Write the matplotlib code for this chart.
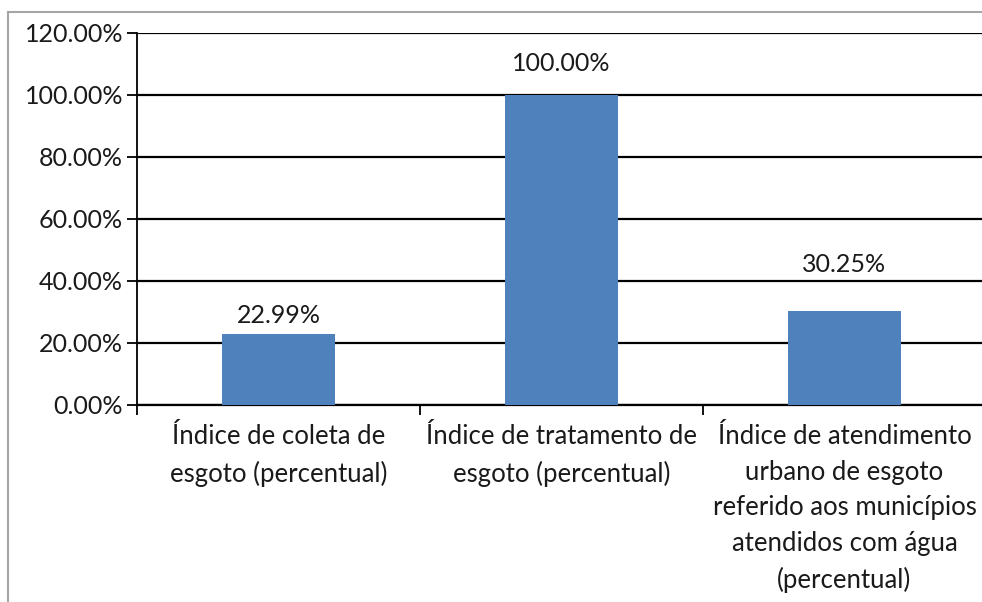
import matplotlib
matplotlib.use("Agg")
import matplotlib.pyplot as plt
from matplotlib.lines import Line2D
from matplotlib.ticker import FuncFormatter, FixedLocator

plt.rcParams['font.family'] = ['Lato', 'DejaVu Sans']

categories = [
    "Índice de coleta de\nesgoto (percentual)",
    "Índice de tratamento de\nesgoto (percentual)",
    "Índice de atendimento\nurbano de esgoto\nreferido aos municípios\natendidos com água\n(percentual)",
]
values = [22.99, 100.00, 30.25]
y_ticks = [0, 20, 40, 60, 80, 100, 120]

# how far above each bar its label sits (points), as in the original
label_pad = [13, 23, 34]

fig = plt.figure(figsize=(9.82, 6.02), dpi=100)
ax = fig.add_axes([137 / 982, 1 - 405 / 602, 849 / 982, 372 / 602])

x = list(range(len(values)))
ax.bar(x, values, width=0.4, color="#4F81BD", zorder=3)

# data labels
for xi, v, p in zip(x, values, label_pad):
    ax.annotate(f"{v:.2f}%", (xi, v), xytext=(0, p), textcoords="offset points",
                ha="center", va="center", fontsize=18, color="#1a1a1a", zorder=4,
                bbox=dict(boxstyle="square,pad=0.1", fc="white", ec="none"))

ax.set_xlim(-0.5, 2.5)
ax.set_ylim(0, 120)
ax.set_yticks(y_ticks)
ax.yaxis.set_major_formatter(FuncFormatter(lambda v, p: f"{v:.2f}%"))
ax.grid(axis="y", color="black", linewidth=1.6, zorder=0)

ax.set_xticks(x)
ax.set_xticklabels(categories, fontsize=18.5, linespacing=1.52, color="#1a1a1a")
ax.xaxis.set_minor_locator(FixedLocator([-0.5, 0.5, 1.5, 2.5]))
ax.tick_params(axis="x", which="major", length=0, pad=14)
ax.tick_params(axis="x", which="minor", length=7, width=1.3, color="black", direction="out")
ax.tick_params(axis="y", length=7, width=1.3, color="black", direction="out",
               labelsize=18, pad=3, labelcolor="#1a1a1a")

for s in ["top", "right"]:
    ax.spines[s].set_visible(False)
ax.spines["left"].set_linewidth(1.3)
ax.spines["bottom"].set_linewidth(1.6)

# chart area border (grey)
fig.add_artist(Line2D([8 / 982, 8 / 982], [0, 1 - 12 / 602], transform=fig.transFigure,
                      color="#A6A6A6", linewidth=1.5))
fig.add_artist(Line2D([8 / 982, 1], [1 - 12 / 602, 1 - 12 / 602], transform=fig.transFigure,
                      color="#A6A6A6", linewidth=1.5))

fig.savefig("out.png", dpi=100, facecolor="white")
